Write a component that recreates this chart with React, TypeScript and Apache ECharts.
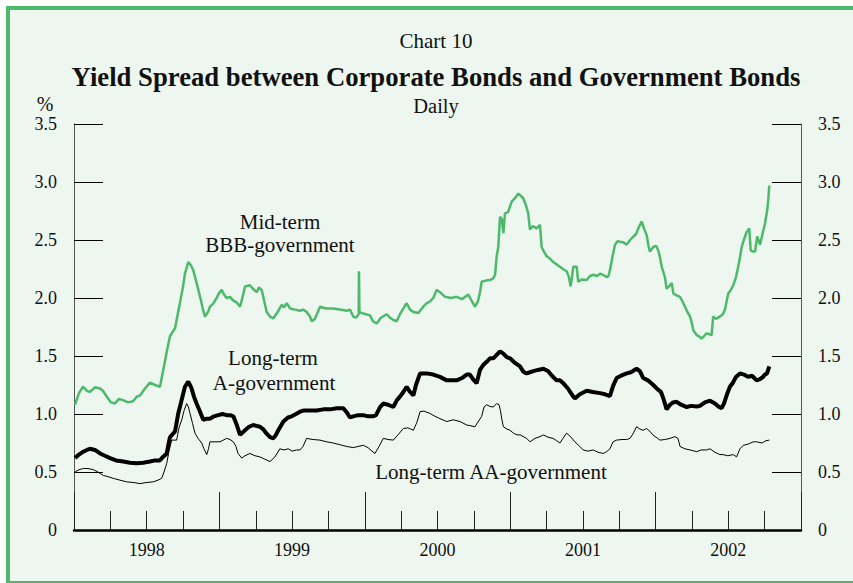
import React, { useEffect, useRef } from "react";
import * as echarts from "echarts";

// x values are dates expressed as decimal years, y values are spreads in %
const yearLabels = ["1998", "1999", "2000", "2001", "2002"];
const yTicks = [0, 0.5, 1.0, 1.5, 2.0, 2.5, 3.0, 3.5];

const bbbSeries: [number, number][] = [
  [1998.007,1.08],[1998.034,1.18],[1998.062,1.235],[1998.089,1.20],[1998.110,1.19],[1998.144,1.23],[1998.179,1.22],[1998.199,1.20],[1998.225,1.15],[1998.254,1.10],[1998.282,1.09],[1998.309,1.13],[1998.337,1.12],[1998.371,1.10],[1998.406,1.11],[1998.433,1.15],[1998.454,1.16],[1998.488,1.22],[1998.523,1.27],[1998.557,1.25],[1998.591,1.235],[1998.614,1.38],[1998.640,1.55],[1998.660,1.67],[1998.695,1.74],[1998.715,1.87],[1998.729,1.96],[1998.750,2.10],[1998.763,2.21],[1998.786,2.31],[1998.805,2.28],[1998.820,2.24],[1998.839,2.15],[1998.855,2.07],[1998.873,1.98],[1998.887,1.90],[1998.901,1.84],[1998.922,1.88],[1998.935,1.925],[1998.956,1.95],[1998.981,2.0],[1998.997,2.04],
  [1999.016,2.07],[1999.032,2.03],[1999.050,2.0],[1999.073,2.01],[1999.094,1.98],[1999.121,1.96],[1999.142,1.925],[1999.162,2.02],[1999.176,2.10],[1999.210,2.11],[1999.231,2.08],[1999.257,2.05],[1999.272,2.09],[1999.291,2.07],[1999.307,1.98],[1999.325,1.88],[1999.348,1.84],[1999.371,1.825],[1999.396,1.87],[1999.428,1.94],[1999.444,1.92],[1999.463,1.955],[1999.486,1.91],[1999.520,1.90],[1999.554,1.89],[1999.575,1.90],[1999.600,1.88],[1999.623,1.84],[1999.635,1.80],[1999.657,1.82],[1999.692,1.925],[1999.733,1.91],[1999.783,1.91],[1999.829,1.90],[1999.876,1.89],[1999.898,1.90],[1999.921,1.84],[1999.939,1.83],[1999.958,1.86],[1999.960,2.23],[1999.963,1.88],[1999.981,1.87],
  [2000.008,1.86],[2000.036,1.85],[2000.056,1.80],[2000.082,1.78],[2000.111,1.83],[2000.151,1.86],[2000.173,1.83],[2000.196,1.81],[2000.219,1.80],[2000.242,1.86],[2000.270,1.92],[2000.288,1.955],[2000.311,1.90],[2000.334,1.88],[2000.368,1.87],[2000.402,1.925],[2000.426,1.955],[2000.448,1.97],[2000.471,2.0],[2000.494,2.07],[2000.517,2.05],[2000.552,2.01],[2000.593,2.00],[2000.632,2.01],[2000.668,1.99],[2000.712,2.03],[2000.737,1.97],[2000.758,1.925],[2000.778,1.97],[2000.792,2.05],[2000.804,2.14],[2000.833,2.15],[2000.861,2.155],[2000.884,2.17],[2000.896,2.20],[2000.907,2.36],[2000.918,2.44],[2000.930,2.70],[2000.942,2.68],[2000.953,2.56],[2000.964,2.73],[2000.985,2.74],
  [2001.010,2.83],[2001.033,2.86],[2001.056,2.90],[2001.074,2.88],[2001.090,2.86],[2001.108,2.80],[2001.124,2.73],[2001.136,2.59],[2001.156,2.62],[2001.182,2.60],[2001.205,2.63],[2001.216,2.44],[2001.232,2.40],[2001.251,2.36],[2001.273,2.34],[2001.296,2.31],[2001.319,2.29],[2001.342,2.27],[2001.363,2.25],[2001.388,2.23],[2001.404,2.18],[2001.416,2.10],[2001.425,2.18],[2001.434,2.27],[2001.457,2.27],[2001.468,2.14],[2001.494,2.16],[2001.526,2.155],[2001.549,2.19],[2001.572,2.20],[2001.597,2.19],[2001.618,2.21],[2001.638,2.20],[2001.664,2.18],[2001.676,2.19],[2001.686,2.24],[2001.704,2.36],[2001.721,2.46],[2001.738,2.49],[2001.755,2.485],[2001.776,2.48],[2001.801,2.46],[2001.824,2.50],[2001.847,2.53],[2001.865,2.55],[2001.881,2.60],[2001.904,2.66],[2001.920,2.60],[2001.939,2.54],[2001.951,2.45],[2001.961,2.40],[2001.984,2.44],
  [2002.003,2.45],[2002.019,2.41],[2002.030,2.35],[2002.042,2.27],[2002.064,2.18],[2002.076,2.08],[2002.092,2.10],[2002.111,2.13],[2002.122,2.04],[2002.147,2.02],[2002.168,2.01],[2002.185,1.97],[2002.202,1.925],[2002.219,1.88],[2002.237,1.84],[2002.248,1.79],[2002.260,1.72],[2002.271,1.70],[2002.283,1.68],[2002.299,1.67],[2002.316,1.65],[2002.332,1.67],[2002.350,1.695],[2002.366,1.69],[2002.385,1.68],[2002.396,1.84],[2002.415,1.82],[2002.442,1.84],[2002.463,1.86],[2002.477,1.90],[2002.500,2.04],[2002.518,2.07],[2002.534,2.11],[2002.553,2.18],[2002.568,2.27],[2002.580,2.35],[2002.592,2.44],[2002.607,2.50],[2002.626,2.57],[2002.635,2.58],[2002.644,2.60],[2002.654,2.41],[2002.670,2.40],[2002.684,2.40],[2002.699,2.53],[2002.718,2.46],[2002.735,2.55],[2002.752,2.64],[2002.768,2.76],[2002.775,2.85],[2002.782,2.97],
];

const aSeries: [number, number][] = [
  [1998.007,0.62],[1998.034,0.65],[1998.064,0.675],[1998.089,0.69],[1998.110,0.70],[1998.144,0.69],[1998.179,0.66],[1998.213,0.64],[1998.248,0.62],[1998.289,0.60],[1998.339,0.59],[1998.385,0.58],[1998.431,0.575],[1998.475,0.58],[1998.523,0.59],[1998.557,0.60],[1998.591,0.60],[1998.612,0.63],[1998.638,0.66],[1998.650,0.74],[1998.660,0.80],[1998.695,0.85],[1998.717,1.005],[1998.736,1.10],[1998.763,1.235],[1998.786,1.28],[1998.809,1.22],[1998.825,1.15],[1998.843,1.09],[1998.867,1.02],[1998.889,0.95],[1998.913,0.96],[1998.935,0.96],[1998.963,0.98],[1998.992,0.99],
  [1999.021,1.00],[1999.050,0.99],[1999.073,0.99],[1999.096,0.98],[1999.121,0.90],[1999.142,0.82],[1999.176,0.86],[1999.204,0.89],[1999.233,0.905],[1999.279,0.89],[1999.300,0.87],[1999.325,0.83],[1999.348,0.80],[1999.371,0.79],[1999.389,0.82],[1999.405,0.86],[1999.440,0.935],[1999.472,0.97],[1999.497,0.98],[1999.527,1.00],[1999.554,1.02],[1999.577,1.03],[1999.623,1.03],[1999.669,1.03],[1999.715,1.04],[1999.761,1.04],[1999.807,1.05],[1999.852,1.05],[1999.878,1.01],[1999.898,0.97],[1999.921,0.98],[1999.953,0.99],[1999.990,0.99],
  [2000.022,0.98],[2000.056,0.98],[2000.077,0.99],[2000.105,1.06],[2000.127,1.09],[2000.160,1.08],[2000.196,1.06],[2000.221,1.12],[2000.242,1.15],[2000.265,1.19],[2000.288,1.235],[2000.311,1.19],[2000.334,1.16],[2000.352,1.25],[2000.380,1.35],[2000.426,1.35],[2000.471,1.34],[2000.517,1.32],[2000.563,1.29],[2000.600,1.29],[2000.632,1.29],[2000.668,1.31],[2000.701,1.34],[2000.723,1.34],[2000.744,1.30],[2000.769,1.265],[2000.792,1.38],[2000.813,1.42],[2000.838,1.45],[2000.861,1.48],[2000.884,1.48],[2000.907,1.51],[2000.930,1.54],[2000.953,1.52],[2000.976,1.49],[2000.999,1.48],
  [2001.033,1.44],[2001.068,1.41],[2001.090,1.365],[2001.113,1.35],[2001.136,1.36],[2001.159,1.37],[2001.191,1.38],[2001.228,1.39],[2001.260,1.37],[2001.287,1.33],[2001.319,1.29],[2001.342,1.29],[2001.369,1.26],[2001.397,1.22],[2001.418,1.18],[2001.434,1.15],[2001.445,1.135],[2001.479,1.17],[2001.526,1.20],[2001.569,1.19],[2001.618,1.18],[2001.652,1.17],[2001.686,1.155],[2001.707,1.24],[2001.732,1.31],[2001.762,1.33],[2001.801,1.35],[2001.830,1.36],[2001.869,1.39],[2001.892,1.37],[2001.915,1.31],[2001.947,1.29],[2001.984,1.25],
  [2002.016,1.21],[2002.037,1.19],[2002.053,1.135],[2002.076,1.04],[2002.099,1.08],[2002.120,1.10],[2002.145,1.105],[2002.175,1.08],[2002.214,1.06],[2002.243,1.07],[2002.283,1.065],[2002.305,1.07],[2002.339,1.10],[2002.374,1.115],[2002.408,1.09],[2002.436,1.06],[2002.454,1.05],[2002.470,1.09],[2002.491,1.17],[2002.511,1.235],[2002.532,1.27],[2002.553,1.32],[2002.580,1.35],[2002.608,1.34],[2002.635,1.32],[2002.663,1.33],[2002.695,1.29],[2002.718,1.30],[2002.739,1.32],[2002.752,1.34],[2002.766,1.35],[2002.782,1.41],
];

const aaSeries: [number, number][] = [
  [1998.007,0.50],[1998.034,0.52],[1998.064,0.53],[1998.096,0.53],[1998.133,0.52],[1998.165,0.50],[1998.202,0.47],[1998.234,0.46],[1998.270,0.445],[1998.316,0.43],[1998.362,0.415],[1998.406,0.41],[1998.454,0.40],[1998.502,0.41],[1998.545,0.415],[1998.578,0.43],[1998.603,0.445],[1998.619,0.50],[1998.638,0.575],[1998.653,0.68],[1998.672,0.775],[1998.706,0.775],[1998.722,0.88],[1998.741,0.95],[1998.757,1.03],[1998.775,1.09],[1998.787,1.06],[1998.798,1.005],[1998.815,0.92],[1998.832,0.835],[1998.853,0.79],[1998.878,0.75],[1998.894,0.70],[1998.913,0.65],[1998.925,0.70],[1998.935,0.76],[1998.970,0.76],
  [1999.004,0.76],[1999.050,0.79],[1999.073,0.78],[1999.096,0.76],[1999.114,0.72],[1999.128,0.66],[1999.153,0.62],[1999.176,0.64],[1999.210,0.66],[1999.245,0.64],[1999.279,0.63],[1999.313,0.61],[1999.348,0.59],[1999.382,0.63],[1999.416,0.70],[1999.444,0.69],[1999.474,0.70],[1999.499,0.68],[1999.532,0.69],[1999.554,0.69],[1999.575,0.72],[1999.600,0.79],[1999.643,0.78],[1999.692,0.775],[1999.738,0.76],[1999.783,0.75],[1999.829,0.735],[1999.876,0.72],[1999.921,0.71],[1999.953,0.72],[1999.990,0.73],
  [2000.022,0.71],[2000.049,0.68],[2000.070,0.66],[2000.098,0.72],[2000.127,0.79],[2000.160,0.78],[2000.196,0.775],[2000.228,0.82],[2000.265,0.875],[2000.297,0.88],[2000.334,0.86],[2000.359,0.93],[2000.380,1.02],[2000.407,1.025],[2000.448,1.005],[2000.483,0.98],[2000.517,0.96],[2000.563,0.935],[2000.608,0.95],[2000.655,0.935],[2000.701,0.905],[2000.723,0.90],[2000.758,0.89],[2000.778,0.93],[2000.804,0.98],[2000.820,1.06],[2000.838,1.08],[2000.861,1.065],[2000.884,1.06],[2000.907,1.09],[2000.923,1.08],[2000.933,1.03],[2000.943,0.95],[2000.953,0.89],[2000.978,0.87],[2000.999,0.86],
  [2001.022,0.835],[2001.047,0.82],[2001.068,0.82],[2001.113,0.79],[2001.136,0.76],[2001.170,0.79],[2001.205,0.805],[2001.228,0.82],[2001.260,0.80],[2001.294,0.79],[2001.319,0.77],[2001.342,0.75],[2001.363,0.79],[2001.388,0.835],[2001.411,0.81],[2001.445,0.76],[2001.479,0.72],[2001.502,0.69],[2001.534,0.68],[2001.572,0.69],[2001.604,0.67],[2001.640,0.66],[2001.663,0.675],[2001.686,0.70],[2001.707,0.76],[2001.732,0.775],[2001.769,0.78],[2001.801,0.78],[2001.824,0.79],[2001.845,0.83],[2001.869,0.89],[2001.892,0.87],[2001.915,0.86],[2001.938,0.875],[2001.961,0.85],[2001.981,0.82],
  [2002.003,0.80],[2002.030,0.775],[2002.064,0.78],[2002.099,0.79],[2002.133,0.805],[2002.154,0.79],[2002.168,0.72],[2002.202,0.70],[2002.237,0.69],[2002.283,0.675],[2002.312,0.69],[2002.350,0.69],[2002.374,0.70],[2002.408,0.67],[2002.442,0.65],[2002.464,0.65],[2002.497,0.64],[2002.534,0.65],[2002.557,0.63],[2002.580,0.70],[2002.603,0.73],[2002.635,0.74],[2002.672,0.76],[2002.695,0.76],[2002.732,0.75],[2002.759,0.77],[2002.782,0.775],
];

const FONT = "'Liberation Serif', 'Times New Roman', serif";
const GREEN = "#4cb96b";

export default function App() {
  const ref = useRef<HTMLDivElement>(null);

  useEffect(() => {
    if (!ref.current) return;
    const chart = echarts.init(ref.current, undefined, { renderer: "svg" });

    const yAxisBase = (position: "left" | "right") => ({
      type: "value",
      position,
      min: 0,
      max: 3.5,
      interval: 0.5,
      axisLine: { show: true, lineStyle: { color: "#555", width: 1 } },
      axisTick: { show: true, inside: true, length: 29, lineStyle: { color: "#000", width: 1 } },
      axisLabel: {
        show: true,
        margin: 17,
        fontFamily: FONT,
        fontSize: 18,
        color: "#111",
        formatter: (v: number) => {
          const t = yTicks.find((k) => Math.abs(k - v) < 1e-9);
          if (t === undefined) return "";
          return t === 0 ? "0" : t.toFixed(1);
        },
      },
      splitLine: { show: false },
    });

    const text = (t: string, x: number, y: number, size: number, bold = false) => ({
      type: "text",
      x,
      y,
      style: {
        text: t,
        fill: "#111",
        font: `${bold ? "bold " : ""}${size}px ${FONT}`,
        textAlign: "center",
        textVerticalAlign: "middle",
      },
    });

    chart.setOption({
      animation: false,
      backgroundColor: "transparent",
      grid: { left: 74, right: 52, top: 124, bottom: 53, containLabel: false },
      xAxis: [
        {
          type: "value",
          min: 1998,
          max: 2003,
          interval: 1,
          position: "bottom",
          axisLine: { show: true, onZero: false, lineStyle: { color: "#000", width: 2.5 } },
          axisTick: { show: true, inside: true, length: 38, lineStyle: { color: "#222", width: 1 } },
          minorTick: { show: true, splitNumber: 4, length: 19, lineStyle: { color: "#222", width: 1 } },
          axisLabel: { show: false },
          splitLine: { show: false },
        },
        {
          type: "value",
          min: 1998,
          max: 2003,
          interval: 0.5,
          position: "bottom",
          axisLine: { show: false },
          axisTick: { show: false },
          splitLine: { show: false },
          axisLabel: {
            show: true,
            margin: 11,
            fontFamily: FONT,
            fontSize: 18,
            color: "#111",
            formatter: (v: number) => {
              const idx = Math.round(v - 0.5 - 1998);
              return Math.abs(v - Math.floor(v) - 0.5) < 1e-6 ? yearLabels[idx] ?? "" : "";
            },
          },
        },
      ],
      yAxis: [yAxisBase("left"), yAxisBase("right")],
      series: [
        {
          type: "line",
          name: "Long-term AA-government",
          data: aaSeries,
          showSymbol: false,
          symbol: "none",
          lineStyle: { color: "#000", width: 1 },
          z: 2,
        },
        {
          type: "line",
          name: "Long-term A-government",
          data: aSeries,
          showSymbol: false,
          symbol: "none",
          lineStyle: { color: "#000", width: 4 },
          z: 3,
        },
        {
          type: "line",
          name: "Mid-term BBB-government",
          data: bbbSeries,
          showSymbol: false,
          symbol: "none",
          lineStyle: { color: GREEN, width: 2.5 },
          z: 4,
        },
      ],
      graphic: [
        text("Chart 10", 436, 41, 21),
        text("Yield Spread between Corporate Bonds and Government Bonds", 436, 77, 26.7, true),
        text("Daily", 436, 106, 20.5),
        text("%", 45, 104, 20),
        text("Mid-term", 280, 222, 21),
        text("BBB-government", 280, 245, 21),
        text("Long-term", 273, 358, 21),
        text("A-government", 274, 383, 21),
        text("Long-term AA-government", 491, 472, 21),
      ],
    });

    return () => chart.dispose();
  }, []);

  return (
    <div
      style={{
        position: "fixed",
        left: 0,
        top: 0,
        width: 853,
        height: 583,
        overflow: "hidden",
        background: "#ffffff",
      }}
    >
      <div
        style={{
          position: "absolute",
          left: 6,
          top: 6,
          width: 860,
          height: 579,
          boxSizing: "border-box",
          border: `4px solid ${GREEN}`,
          background: "#edf7ef",
        }}
      />
      <div ref={ref} style={{ position: "absolute", left: 0, top: 0, width: 853, height: 583 }} />
    </div>
  );
}
